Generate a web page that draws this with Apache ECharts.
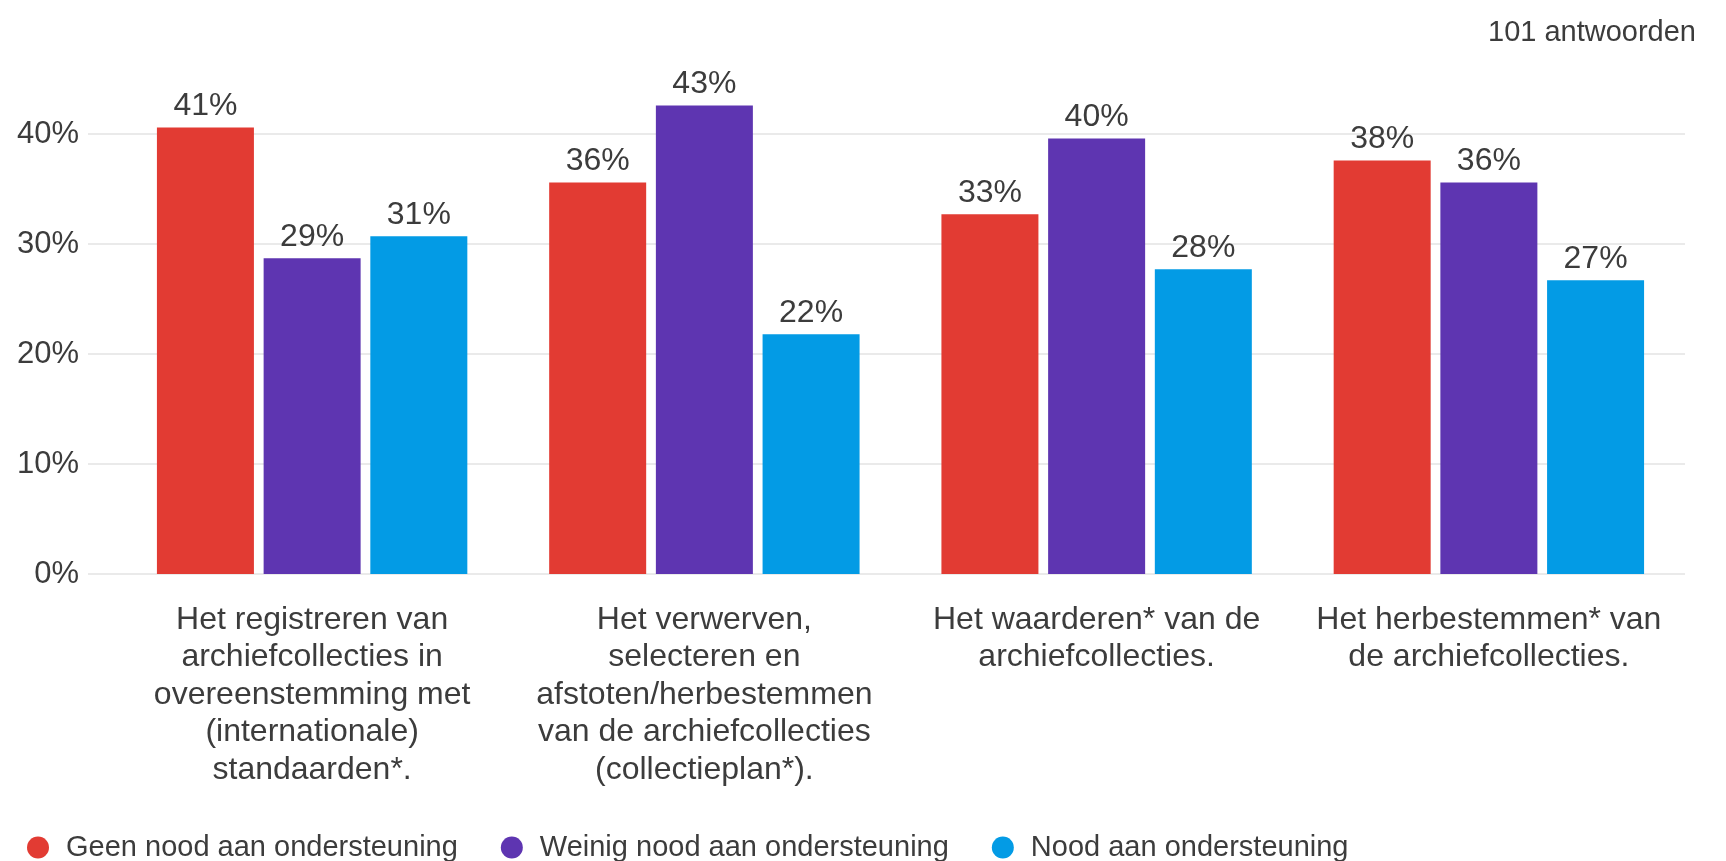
<!DOCTYPE html>
<html>
<head>
<meta charset="utf-8">
<script src="https://cdn.jsdelivr.net/npm/echarts@6/dist/echarts.min.js"></script>
<style>
  html, body { margin: 0; padding: 0; background: #fff; }
  #chart { width: 1726px; height: 861px; }
</style>
</head>
<body>
<div id="chart"></div>
<script>
const categories = [
  'Het registreren van\narchiefcollecties in\novereenstemming met\n(internationale)\nstandaarden*.',
  'Het verwerven,\nselecteren en\nafstoten/herbestemmen\nvan de archiefcollecties\n(collectieplan*).',
  'Het waarderen* van de\narchiefcollecties.',
  'Het herbestemmen* van\nde archiefcollecties.'
];
const seriesNames = ['Geen nood aan ondersteuning', 'Weinig nood aan ondersteuning', 'Nood aan ondersteuning'];
// percentages of 101 answers
const geenNood = [40.6, 35.6, 32.7, 37.6];
const weinigNood = [28.7, 42.6, 39.6, 35.6];
const nood = [30.7, 21.8, 27.7, 26.7];
const yTicks = [0, 10, 20, 30, 40];
const colors = ['#e23b33', '#5e35b1', '#039be5'];

const font = 'Liberation Sans, Arial, sans-serif';
const chart = echarts.init(document.getElementById('chart'));

function bar(name, data, color) {
  return {
    name: name,
    type: 'bar',
    xAxisIndex: 1,
    yAxisIndex: 1,
    data: data,
    barWidth: 97,
    barGap: '10%',
    clip: false,
    itemStyle: { color: color },
    label: {
      show: true,
      position: 'top',
      distance: 5,
      fontFamily: font,
      fontSize: 32,
      color: '#3c3c3c',
      formatter: p => Math.round(p.value) + '%'
    }
  };
}

const yRange = { type: 'value', min: yTicks[0], max: yTicks[yTicks.length - 1], interval: 10 };

chart.setOption({
  animation: false,
  color: colors,
  title: {
    text: '101 antwoorden',
    right: 25,
    top: 13,
    textStyle: { fontFamily: font, fontSize: 29, fontWeight: 'normal', color: '#3c3c3c' }
  },
  // grid 0 carries the gridlines (they run a bit left of the bars), grid 1 the bars
  grid: [
    { left: 88, right: 41, top: 134, bottom: 287 },
    { left: 116, right: 41, top: 134, bottom: 287 }
  ],
  legend: {
    left: 22,
    top: 828,
    icon: 'circle',
    itemWidth: 22,
    itemHeight: 22,
    itemGap: 43,
    textStyle: { fontFamily: font, fontSize: 29, color: '#3c3c3c', padding: [0, 0, 0, 12] },
    data: seriesNames
  },
  xAxis: [
    { type: 'value', gridIndex: 0, min: 0, max: 1, show: false },
    {
      type: 'category',
      gridIndex: 1,
      data: categories,
      axisTick: { show: false },
      axisLine: { show: false },
      axisLabel: {
        interval: 0,
        margin: 27,
        fontFamily: font,
        fontSize: 32,
        lineHeight: 37.5,
        color: '#3c3c3c',
        align: 'center'
      }
    }
  ],
  yAxis: [
    Object.assign({}, yRange, {
      gridIndex: 0,
      axisLine: { show: false },
      axisTick: { show: false },
      splitLine: { lineStyle: { color: '#e3e3e3', width: 1.5 } },
      axisLabel: {
        margin: 9,
        fontFamily: font,
        fontSize: 31,
        color: '#3c3c3c',
        formatter: '{value}%'
      }
    }),
    Object.assign({}, yRange, { gridIndex: 1, show: false, splitLine: { show: false } })
  ],
  series: [
    bar(seriesNames[0], geenNood, colors[0]),
    bar(seriesNames[1], weinigNood, colors[1]),
    bar(seriesNames[2], nood, colors[2])
  ]
});
</script>
</body>
</html>
